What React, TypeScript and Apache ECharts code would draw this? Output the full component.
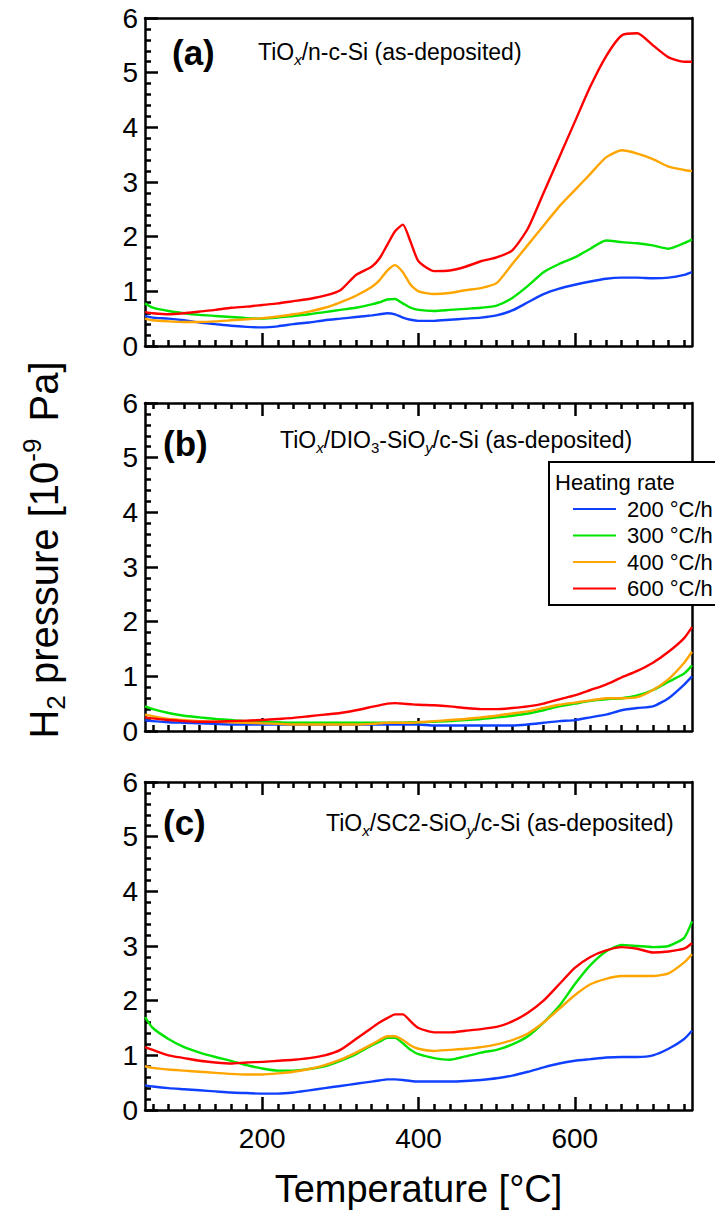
import React, { useEffect, useRef } from 'react';
import * as echarts from 'echarts';

// Temperature sample points [°C]
const temps = [50, 60, 80, 100, 120, 140, 160, 180, 200, 220, 240, 260, 280, 300, 320, 340, 350, 360, 370, 380, 390, 400, 420, 440, 460, 480, 500, 520, 540, 560, 580, 600, 620, 640, 660, 680, 700, 720, 740, 750];

// Panel (a) TiOx/n-c-Si
const aBlue = [0.55, 0.52, 0.5, 0.47, 0.43, 0.4, 0.37, 0.35, 0.34, 0.36, 0.4, 0.43, 0.47, 0.5, 0.53, 0.56, 0.58, 0.6, 0.58, 0.52, 0.48, 0.46, 0.46, 0.48, 0.5, 0.52, 0.56, 0.65, 0.8, 0.95, 1.05, 1.12, 1.18, 1.23, 1.25, 1.25, 1.24, 1.25, 1.3, 1.35];
const aGreen = [0.78, 0.7, 0.64, 0.6, 0.57, 0.55, 0.53, 0.51, 0.5, 0.52, 0.55, 0.58, 0.62, 0.66, 0.7, 0.76, 0.8, 0.85, 0.86, 0.78, 0.7, 0.66, 0.64, 0.66, 0.68, 0.7, 0.74, 0.88, 1.1, 1.35, 1.5, 1.62, 1.78, 1.93, 1.9, 1.88, 1.84, 1.78, 1.88, 1.95];
const aOrange = [0.5, 0.47, 0.45, 0.44, 0.44, 0.45, 0.47, 0.49, 0.51, 0.54, 0.58, 0.63, 0.7, 0.8, 0.92, 1.08, 1.2, 1.38, 1.48, 1.35, 1.12, 1.0, 0.95, 0.97, 1.02, 1.06, 1.15, 1.5, 1.85, 2.2, 2.55, 2.85, 3.15, 3.45, 3.58, 3.52, 3.42, 3.28, 3.22, 3.2];
const aRed = [0.62, 0.6, 0.58, 0.6, 0.63, 0.66, 0.7, 0.72, 0.75, 0.78, 0.82, 0.86, 0.92, 1.02, 1.3, 1.45, 1.6, 1.85, 2.1, 2.22, 1.9, 1.55, 1.37, 1.38, 1.45, 1.55, 1.62, 1.75, 2.15, 2.8, 3.45, 4.1, 4.75, 5.3, 5.68, 5.72, 5.5, 5.28, 5.2, 5.2];

// Panel (b) TiOx/DIO3-SiOy/c-Si
const bBlue = [0.2, 0.18, 0.16, 0.15, 0.14, 0.13, 0.12, 0.12, 0.12, 0.12, 0.12, 0.12, 0.12, 0.12, 0.12, 0.12, 0.12, 0.12, 0.12, 0.12, 0.12, 0.12, 0.1, 0.1, 0.1, 0.1, 0.1, 0.1, 0.12, 0.15, 0.18, 0.2, 0.25, 0.3, 0.38, 0.42, 0.45, 0.6, 0.85, 1.0];
const bGreen = [0.45, 0.4, 0.33, 0.28, 0.25, 0.22, 0.2, 0.18, 0.17, 0.16, 0.15, 0.15, 0.15, 0.15, 0.15, 0.15, 0.15, 0.15, 0.15, 0.15, 0.16, 0.16, 0.17, 0.18, 0.2, 0.22, 0.25, 0.28, 0.32, 0.38, 0.45, 0.5, 0.55, 0.58, 0.6, 0.65, 0.75, 0.9, 1.05, 1.2];
const bOrange = [0.3, 0.27, 0.22, 0.2, 0.18, 0.17, 0.16, 0.15, 0.14, 0.13, 0.12, 0.12, 0.12, 0.12, 0.12, 0.13, 0.14, 0.15, 0.15, 0.15, 0.15, 0.16, 0.18, 0.2, 0.22, 0.25, 0.28, 0.32, 0.36, 0.42, 0.48, 0.52, 0.56, 0.6, 0.6, 0.62, 0.75, 0.95, 1.25, 1.45];
const bRed = [0.25, 0.23, 0.2, 0.18, 0.17, 0.17, 0.18, 0.19, 0.2, 0.22, 0.24, 0.27, 0.3, 0.33, 0.38, 0.44, 0.47, 0.5, 0.51, 0.5, 0.49, 0.48, 0.47, 0.45, 0.42, 0.4, 0.4, 0.42, 0.45, 0.5, 0.58, 0.65, 0.75, 0.85, 0.98, 1.1, 1.25, 1.45, 1.7, 1.9];

// Panel (c) TiOx/SC2-SiOy/c-Si
const cBlue = [0.45, 0.43, 0.4, 0.38, 0.36, 0.34, 0.32, 0.31, 0.3, 0.3, 0.32, 0.36, 0.4, 0.44, 0.48, 0.52, 0.54, 0.56, 0.56, 0.55, 0.53, 0.52, 0.52, 0.52, 0.53, 0.55, 0.58, 0.63, 0.7, 0.78, 0.85, 0.9, 0.93, 0.96, 0.97, 0.97, 1.0, 1.12, 1.3, 1.45];
const cGreen = [1.7, 1.5, 1.3, 1.15, 1.05, 0.97, 0.9, 0.82, 0.76, 0.72, 0.72, 0.75, 0.8, 0.9, 1.02, 1.18, 1.25, 1.32, 1.32, 1.22, 1.1, 1.02, 0.95, 0.92, 0.98, 1.05, 1.1, 1.2, 1.35, 1.6, 1.9, 2.3, 2.65, 2.9, 3.02, 3.0, 2.98, 3.0, 3.15, 3.45];
const cOrange = [0.8, 0.77, 0.74, 0.72, 0.7, 0.68, 0.66, 0.65, 0.65, 0.67, 0.7, 0.75, 0.82, 0.92, 1.05, 1.2, 1.28, 1.35, 1.35, 1.28, 1.18, 1.12, 1.08, 1.1, 1.12, 1.15, 1.2, 1.28, 1.4, 1.6, 1.85, 2.1, 2.3, 2.4, 2.45, 2.45, 2.45, 2.5, 2.7, 2.85];
const cRed = [1.15, 1.1, 1.0, 0.95, 0.9, 0.87, 0.85, 0.87, 0.88, 0.9, 0.92, 0.95, 1.0, 1.1, 1.3, 1.5, 1.6, 1.68, 1.75, 1.75, 1.62, 1.5, 1.42, 1.42, 1.45, 1.48, 1.52, 1.62, 1.78, 2.0, 2.3, 2.6, 2.8, 2.92, 2.98, 2.95, 2.88, 2.9, 2.95, 3.05];

const rates = ['200 °C/h', '300 °C/h', '400 °C/h', '600 °C/h'];
const colors = ['#1040ff', '#00e400', '#ffa500', '#ff0000'];
const xMajorTicks = [200, 400, 600];
const xMinorTicks = [60, 80, 100, 120, 140, 160, 180, 220, 240, 260, 280, 300, 320, 340, 360, 380, 420, 440, 460, 480, 500, 520, 540, 560, 580, 620, 640, 660, 680, 700, 720, 740];
const panelLabels = ['(a)', '(b)', '(c)'];
const panelTitles = [
  '{n|TiO}{si|x}{n|/n-c-Si (as-deposited)}',
  '{n|TiO}{si|x}{n|/DIO}{s|3}{n|-SiO}{si|y}{n|/c-Si (as-deposited)}',
  '{n|TiO}{si|x}{n|/SC2-SiO}{si|y}{n|/c-Si (as-deposited)}',
];
const legendTitle = 'Heating rate';
const xTitle = 'Temperature [°C]';
const yTitle = '{n|H}{s|2}{n| pressure [10}{p|-9}{n| Pa]}';

const panelData = [
  [aBlue, aGreen, aOrange, aRed],
  [bBlue, bGreen, bOrange, bRed],
  [cBlue, cGreen, cOrange, cRed],
];

const FF = '"Liberation Sans", Arial, Helvetica, sans-serif';
const GRID_LEFT = 145;
const GRID_RIGHT = 23;
const GRID_TOPS = [18, 403, 782];
const GRID_H = 328;
const LABEL_POS = [[172, 52], [163, 443], [163, 822]];
const TITLE_POS = [[258, 52], [280, 440], [326, 823]];

export default function App() {
  const ref = useRef<HTMLDivElement>(null);

  useEffect(() => {
    if (!ref.current) return;
    const chart = echarts.init(ref.current, null, { renderer: 'svg' });
    const black = () => ({ color: '#000', width: 2.5 });

    const grids = GRID_TOPS.map((t) => ({ left: GRID_LEFT, right: GRID_RIGHT, top: t, height: GRID_H }));
    const xAxes: any[] = [];
    const yAxes: any[] = [];
    const mainX: number[] = [];

    GRID_TOPS.forEach((_, p) => {
      const base = () => ({ type: 'value', gridIndex: p, min: 50, max: 750, splitLine: { show: false } });
      mainX.push(xAxes.length);
      xAxes.push({
        ...base(),
        position: 'bottom',
        axisLine: { show: true, onZero: false, lineStyle: black() },
        axisTick: { show: true, inside: true, length: 13, customValues: xMajorTicks, lineStyle: black() },
        axisLabel: { show: p === 2, customValues: xMajorTicks, fontSize: 28, color: '#000', fontFamily: FF, margin: 14 },
        name: p === 2 ? xTitle : '',
        nameLocation: 'middle',
        nameGap: 60,
        nameTextStyle: { fontSize: 38, color: '#000', fontFamily: FF },
      });
      xAxes.push({
        ...base(),
        position: 'bottom',
        axisLine: { show: false, onZero: false },
        axisTick: { show: true, inside: true, length: 6, customValues: xMinorTicks, lineStyle: black() },
        axisLabel: { show: false },
      });
      xAxes.push({
        ...base(),
        position: 'top',
        axisLine: { show: true, onZero: false, lineStyle: black() },
        axisTick: { show: p > 0, inside: true, length: 13, customValues: xMajorTicks, lineStyle: black() },
        axisLabel: { show: false },
      });
      if (p > 0) {
        xAxes.push({
          ...base(),
          position: 'top',
          axisLine: { show: false, onZero: false },
          axisTick: { show: true, inside: true, length: 6, customValues: xMinorTicks, lineStyle: black() },
          axisLabel: { show: false },
        });
      }
      yAxes.push({
        type: 'value',
        gridIndex: p,
        min: 0,
        max: 6,
        interval: 1,
        position: 'left',
        axisLine: { show: true, onZero: false, lineStyle: black() },
        axisTick: { show: true, inside: true, length: 13, lineStyle: black() },
        minorTick: { show: true, splitNumber: 5, length: 6, lineStyle: black() },
        axisLabel: { fontSize: 28, color: '#000', fontFamily: FF, margin: 7 },
        splitLine: { show: false },
      });
      yAxes.push({
        type: 'value',
        gridIndex: p,
        min: 0,
        max: 6,
        interval: 1,
        position: 'right',
        axisLine: { show: true, onZero: false, lineStyle: black() },
        axisTick: { show: false },
        axisLabel: { show: false },
        splitLine: { show: false },
      });
    });

    const series: any[] = [];
    panelData.forEach((arrs, p) => {
      arrs.forEach((arr, k) => {
        series.push({
          type: 'line',
          name: rates[k],
          xAxisIndex: mainX[p],
          yAxisIndex: p * 2,
          data: temps.map((t, i) => [t, arr[i]]),
          showSymbol: false,
          symbol: 'none',
          smooth: 0.2,
          color: colors[k],
          itemStyle: { color: colors[k] },
          lineStyle: { color: colors[k], width: 2.4 },
        });
      });
    });

    const subRich = {
      n: { fontSize: 23, lineHeight: 30, fontFamily: FF, color: '#000' },
      s: { fontSize: 15, lineHeight: 15, fontFamily: FF, color: '#000', verticalAlign: 'bottom' },
      si: { fontSize: 15, lineHeight: 15, fontFamily: FF, color: '#000', fontStyle: 'italic', verticalAlign: 'bottom' },
    };

    const graphic: any[] = [];
    panelLabels.forEach((lab, p) => {
      graphic.push({
        type: 'text',
        x: LABEL_POS[p][0],
        y: LABEL_POS[p][1],
        style: { text: lab, fontSize: 35, fontWeight: 'bold', fontFamily: FF, fill: '#000', align: 'left', verticalAlign: 'middle' },
      });
      graphic.push({
        type: 'text',
        x: TITLE_POS[p][0],
        y: TITLE_POS[p][1],
        style: { text: panelTitles[p], rich: subRich, align: 'left', verticalAlign: 'middle' },
      });
    });
    graphic.push({
      type: 'text',
      x: 44,
      y: 550,
      rotation: Math.PI / 2,
      style: {
        text: yTitle,
        align: 'center',
        verticalAlign: 'middle',
        rich: {
          n: { fontSize: 40, lineHeight: 50, fontFamily: FF, color: '#000' },
          s: { fontSize: 26, lineHeight: 26, fontFamily: FF, color: '#000', verticalAlign: 'bottom' },
          p: { fontSize: 26, lineHeight: 26, fontFamily: FF, color: '#000', verticalAlign: 'top', padding: [0, 6, 0, 0] },
        },
      },
    });
    graphic.push({
      type: 'rect',
      z: 10,
      shape: { x: 549, y: 462, width: 200, height: 143 },
      style: { fill: '#fff', stroke: '#000', lineWidth: 2 },
    });
    graphic.push({
      type: 'text',
      z: 11,
      x: 555,
      y: 482,
      style: { text: legendTitle, fontSize: 22, fontFamily: FF, fill: '#000', align: 'left', verticalAlign: 'middle' },
    });

    chart.setOption({
      animation: false,
      grid: grids,
      xAxis: xAxes,
      yAxis: yAxes,
      series,
      legend: {
        data: rates,
        orient: 'vertical',
        left: 568,
        top: 493,
        z: 20,
        icon: 'rect',
        itemWidth: 43,
        itemHeight: 2,
        itemGap: 4.5,
        selectedMode: false,
        textStyle: { fontSize: 22, lineHeight: 22, color: '#000', fontFamily: FF, padding: [0, 0, 0, 6] },
      },
      graphic,
    });
    return () => chart.dispose();
  }, []);

  return <div ref={ref} style={{ position: 'absolute', left: 0, top: 0, width: 715, height: 1216 }} />;
}
